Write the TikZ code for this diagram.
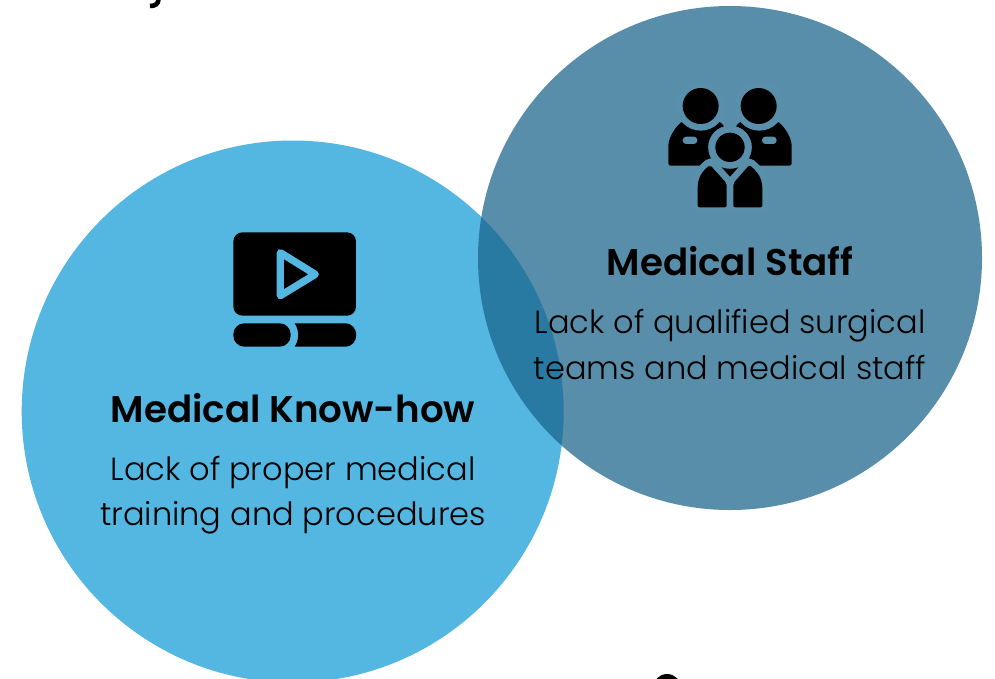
\documentclass[tikz,border=0pt]{standalone}
\usepackage{fontspec}
\setmainfont{Poppins Light}
\newfontfamily\semi{Poppins SemiBold}
\definecolor{leftblue}{HTML}{53B7E2}
\definecolor{rightblue}{HTML}{1A638A}
\definecolor{rightbg}{HTML}{5A8FAB}
\tikzset{
  headtext/.style={anchor=base,inner sep=0pt,font=\semi\fontsize{37.2}{44}\selectfont,text=black},
  bodytext/.style={anchor=base,inner sep=0pt,font=\fontsize{32.05}{40}\selectfont,text=black},
}
\begin{document}
\begin{tikzpicture}[x=1pt,y=-1pt]
\useasboundingbox (0,0) rectangle (995,678);
\fill[white] (0,0) rectangle (995,678);
\begin{scope}
\clip (0,0) rectangle (995,678);
\fill[leftblue] (292.7,411.5) circle[radius=271];
\fill[rightblue,fill opacity=0.72] (730,258) circle[radius=252];
% cut-off fragments at the edges
\draw[black,line width=4.6pt] (158.5,-1) .. controls (158.5,4) and (155,6) .. (150,6);
\fill[black] (667,688) circle[radius=14];
\end{scope}
% staff icon
\begin{scope}[shift={(640,70)},x=0.3333pt,y=-0.3333pt]
\fill[black,rounded corners=2.3pt] (85,287) -- (85,235) .. controls (85,205) and (102,177) .. (125,155) -- (240,155) -- (255,172) -- (215,215) -- (215,287) -- cycle;
\fill[black,rounded corners=2.3pt] (455,287) -- (455,235) .. controls (455,205) and (438,177) .. (415,155) -- (300,155) -- (285,172) -- (325,215) -- (325,287) -- cycle;
\fill[rightbg] (182,108) circle[radius=74];
\fill[rightbg] (358,108) circle[radius=74];
\fill[black] (182,108) circle[radius=54];
\fill[black] (356,108) circle[radius=54];
\fill[rightbg] (270,232) circle[radius=65];
\path[fill=rightbg,draw=rightbg,line width=13pt,line join=round] (173,412) -- (173,360) .. controls (173,325) and (185,305) .. (210,285) -- (328,285) .. controls (352,305) and (367,325) .. (367,360) -- (367,412) -- cycle;
\fill[rightbg] (270,232) circle[radius=65];
\fill[black] (270,232) circle[radius=44];
\fill[rightbg,rounded corners=3.5pt] (128,200) rectangle (172,222);
\fill[rightbg,rounded corners=3.5pt] (366,200) rectangle (410,222);
\fill[black,rounded corners=2pt] (260,412) -- (260,340) -- (210,285) .. controls (185,305) and (173,325) .. (173,360) -- (173,412) -- cycle;
\fill[black,rounded corners=2pt] (280,412) -- (280,340) -- (328,285) .. controls (352,305) and (367,325) .. (367,360) -- (367,412) -- cycle;
\fill[black] (245,292) .. controls (262,298) and (278,298) .. (295,292) -- (270,320) -- cycle;
\end{scope}
% video icon
\begin{scope}[shift={(210,215)},x=0.3333pt,y=-0.3333pt]
\fill[black,rounded corners=9pt] (70,52) rectangle (438,302);
\draw[leftblue,line width=7.3pt,line join=round] (211,113) -- (316,178) -- (211,242) -- cycle;
\fill[black,rounded corners=11pt] (70,325) rectangle (242,395);
\fill[black] (254,325) -- (405,325) .. controls (450,325) and (450,395) .. (405,395) -- (254,395) .. controls (268,375) and (268,345) .. (254,325) -- cycle;
\end{scope}
\node[headtext] (kh) at (293,422) {Medical Know-how};
\node[bodytext] (k1) at (293,480) {Lack of proper medical};
\node[bodytext] (k2) at (293,525) {training and procedures};
\node[headtext] (st) at (730,275) {Medical Staff};
\node[bodytext] (s1) at (730,333) {Lack of qualified surgical};
\node[bodytext] (s2) at (730,379) {teams and medical staff};
\end{tikzpicture}
\end{document}
